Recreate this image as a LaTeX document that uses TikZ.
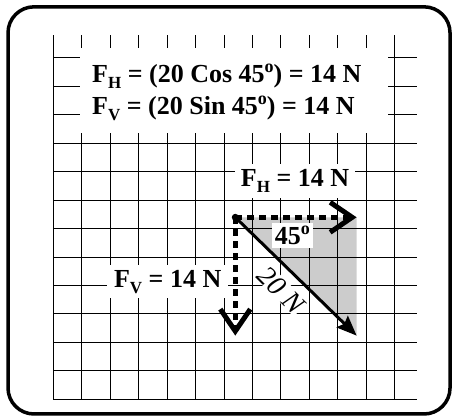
\documentclass[tikz,border=0pt]{standalone}
\usepackage{fontspec}
\setmainfont{Liberation Serif}
\usetikzlibrary{arrows.meta}

\definecolor{shadegray}{RGB}{204,204,204}
\newcommand{\lowsub}[1]{\raisebox{-6pt}{\fontsize{17}{17}\selectfont #1}}
\newcommand{\degsup}{\raisebox{10pt}{\fontsize{18}{18}\selectfont o}}

\tikzset{
  gridline/.style={line width=1pt},
  whitebox/.style={fill=white, inner sep=0pt},
  boldtext/.style={inner sep=0pt, font=\fontsize{26}{32}\selectfont\bfseries},
  component/.style={line width=5pt, dash pattern=on 7pt off 5pt,
    -{Straight Barb[length=22pt, width=30pt, line width=5pt]}},
  resultant/.style={line width=3pt, -{Stealth[length=20pt, width=16pt, inset=3pt]}}
}

\begin{document}
\begin{tikzpicture}[x=30.33pt, y=30.33pt]
  \useasboundingbox (-1.758,-0.584) rectangle (13.178,13.165);
  % outer frame
  \draw[line width=3.5pt, rounded corners=26pt] (-1.494,-0.485) rectangle (13.08,12.94);

  % vector end points
  \coordinate (origin) at (6,6);
  \coordinate (htip) at (10,6);
  \coordinate (vtip) at (6,2.1);
  \coordinate (rtip) at (10,2.1);

  % shaded triangle and grid
  \fill[shadegray] (origin) -- (htip) -- (rtip) -- cycle;
  \draw[gridline] (0,0) grid (12,12);

  % formulas at the top
  \node[whitebox, minimum width=308pt, minimum height=85pt] (formulabox) at (5.955,10.18) {};
  \node[boldtext, anchor=base west] (fhformula) at (1.276,10.45) {F\lowsub{H} = (20 Cos 45\degsup) = 14 N};
  \node[boldtext, anchor=base west] (fvformula) at (1.276,9.40) {F\lowsub{V} = (20 Sin 45\degsup) = 14 N};

  % labels
  \node[whitebox, boldtext, minimum width=120pt, minimum height=34pt] (fhlabel) at (7.97,7.2) {F\lowsub{H} = 14 N};
  \node[whitebox, boldtext, minimum width=41pt, minimum height=25pt] (anglelabel) at (7.88,5.40) {45\degsup};
  \node[whitebox, boldtext, minimum width=121pt, minimum height=33pt] (fvlabel) at (3.77,3.88) {F\lowsub{V} = 14 N};
  \node[fill=white, inner sep=0.5pt, rotate=-45, font=\fontsize{28}{28}\selectfont\itshape] (rlabel) at (7.52,3.60) {20 N};

  % vectors
  \fill (origin) circle (3.5pt);
  \draw[component] (origin) -- (htip);
  \draw[component] (origin) -- (vtip);
  \draw[resultant] (origin) -- (rtip);
\end{tikzpicture}
\end{document}
